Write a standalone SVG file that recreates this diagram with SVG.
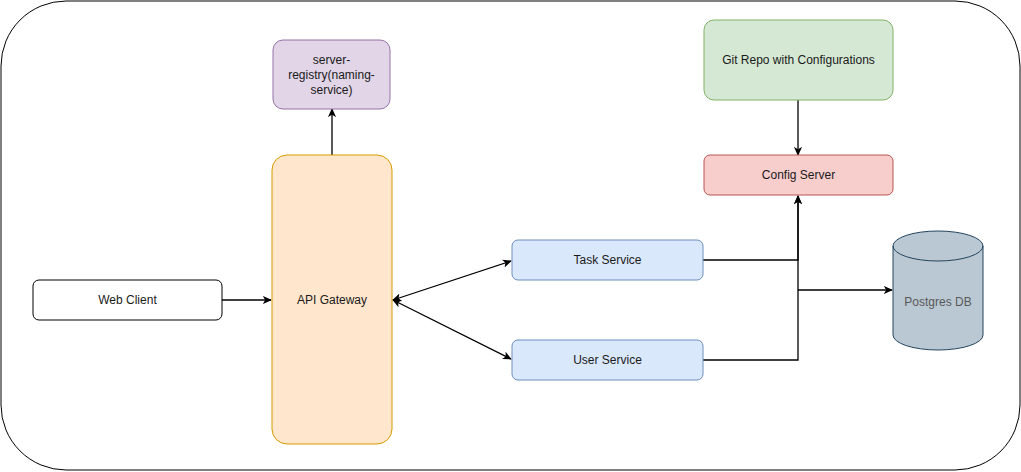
<svg xmlns="http://www.w3.org/2000/svg" width="1021" height="472" viewBox="0 0 1021 472">
<style>
text{font-family:"Liberation Sans",Arial,sans-serif;font-size:12px;fill:#1a1a1a;text-anchor:middle;dominant-baseline:central}
.edge{fill:none;stroke:#000;stroke-width:1.3}
</style>
<defs>
<marker id="arr" viewBox="0 0 10 10" refX="9" refY="5" markerWidth="9" markerHeight="9" markerUnits="userSpaceOnUse" orient="auto-start-reverse">
<path d="M0,0.5 L10,5 L0,9.5 L2.5,5 z" fill="#000"/>
</marker>
</defs>
<rect x="1" y="1" width="1019" height="469" rx="65" ry="65" fill="#fff" stroke="#000" stroke-width="1"/>
<g id="connectors">
<path class="edge" d="M332,155 V109" marker-end="url(#arr)"/>
<path class="edge" d="M222,300 H271" marker-end="url(#arr)"/>
<path class="edge" d="M393,300 L511,261" marker-start="url(#arr)" marker-end="url(#arr)"/>
<path class="edge" d="M393,300 L511,359" marker-start="url(#arr)" marker-end="url(#arr)"/>
<path class="edge" d="M798,100 V155" marker-end="url(#arr)"/>
<path class="edge" d="M703,260 H798 V196" marker-end="url(#arr)"/>
<path class="edge" d="M703,360 H798 V196" marker-end="url(#arr)"/>
<path class="edge" d="M798,290 H892" marker-end="url(#arr)"/>
</g>
<g id="server-registry">
<rect x="273" y="40" width="117" height="69" rx="10" fill="#e1d5e7" stroke="#9673a6"/>
<text x="331.5" y="60">server-</text>
<text x="331.5" y="75">registry(naming-</text>
<text x="331.5" y="90">service)</text>
</g>
<g id="api-gateway">
<rect x="272" y="155" width="120" height="289" rx="15" fill="#ffe6cc" stroke="#d79b00"/>
<text x="332" y="299.5">API Gateway</text>
</g>
<g id="web-client">
<rect x="33" y="280" width="189" height="40" rx="6" fill="#fff" stroke="#000"/>
<text x="127.5" y="300">Web Client</text>
</g>
<g id="task-service">
<rect x="512" y="240" width="191" height="40" rx="6" fill="#dae8fc" stroke="#6c8ebf"/>
<text x="607.5" y="260">Task Service</text>
</g>
<g id="user-service">
<rect x="512" y="340" width="191" height="40" rx="6" fill="#dae8fc" stroke="#6c8ebf"/>
<text x="607.5" y="360">User Service</text>
</g>
<g id="git-repo">
<rect x="704" y="20" width="189" height="80" rx="10" fill="#d5e8d4" stroke="#82b366"/>
<text x="798.5" y="60">Git Repo with Configurations</text>
</g>
<g id="config-server">
<rect x="704" y="155" width="189" height="40" rx="6" fill="#f8cecc" stroke="#b85450"/>
<text x="798.5" y="175">Config Server</text>
</g>
<g id="postgres-db">
<path d="M893,246 A45,15 0 0 1 983,246 V335 A45,15 0 0 1 893,335 Z" fill="#bac8d3" stroke="#23445d"/>
<path d="M893,246 A45,15 0 0 0 983,246" fill="none" stroke="#23445d"/>
<text x="938" y="302" style="fill:#595959">Postgres DB</text>
</g>
</svg>
